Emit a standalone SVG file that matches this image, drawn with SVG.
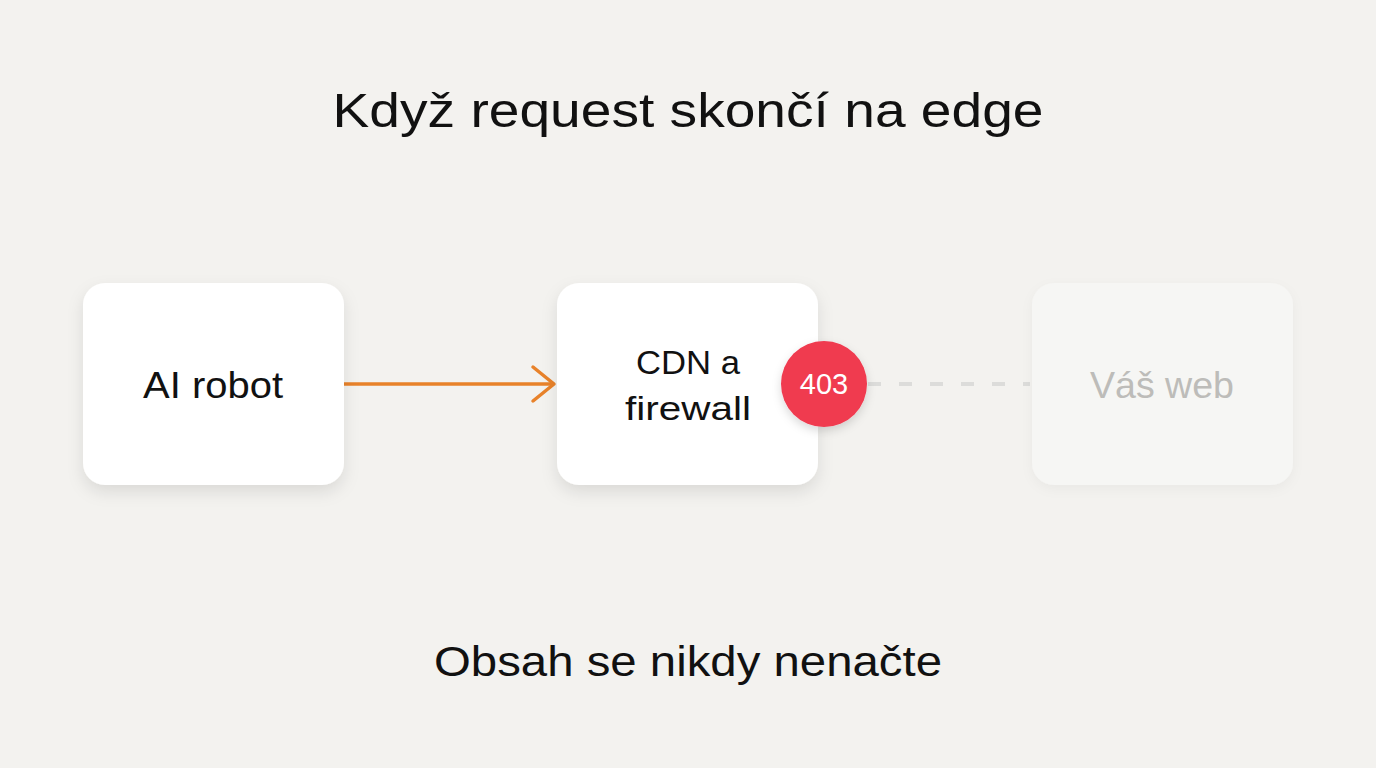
<svg xmlns="http://www.w3.org/2000/svg" width="1376" height="768" viewBox="0 0 1376 768">
<defs>
<style>
.t{font-family:"Liberation Sans","DejaVu Sans",sans-serif;fill:#111;text-anchor:middle}
.box{fill:#ffffff}
</style>
<filter id="sh" x="-20%" y="-20%" width="140%" height="150%">
<feDropShadow dx="0" dy="7" stdDeviation="8" flood-color="#000" flood-opacity="0.10"/>
</filter>
<filter id="sh2" x="-20%" y="-20%" width="140%" height="150%">
<feDropShadow dx="0" dy="4" stdDeviation="6" flood-color="#000" flood-opacity="0.04"/>
</filter>
<filter id="sh3" x="-40%" y="-40%" width="180%" height="180%">
<feDropShadow dx="0" dy="4" stdDeviation="5" flood-color="#000" flood-opacity="0.15"/>
</filter>
</defs>
<rect width="1376" height="768" fill="#f3f2ef"/>
<text class="t" x="688" y="127" font-size="49" textLength="711" lengthAdjust="spacingAndGlyphs">Když request skončí na edge</text>
<g id="connectors">
<line x1="344" y1="384" x2="554" y2="384" stroke="#e8822a" stroke-width="3.5"/>
<polyline points="533,367 554,384 533,401" fill="none" stroke="#e8822a" stroke-width="3.5" stroke-linecap="round" stroke-linejoin="round"/>
<line x1="868" y1="384" x2="1030" y2="384" stroke="#dcdcda" stroke-width="4" stroke-dasharray="13 18"/>
</g>
<g id="ai-robot">
<rect class="box" x="83" y="283" width="261" height="202" rx="22" filter="url(#sh)"/>
<text class="t" x="213" y="398" font-size="37" textLength="140" lengthAdjust="spacingAndGlyphs">AI robot</text>
</g>
<g id="cdn">
<rect class="box" x="557" y="283" width="261" height="202" rx="22" filter="url(#sh)"/>
<text class="t" x="688" y="374" font-size="34" textLength="104" lengthAdjust="spacingAndGlyphs">CDN a</text>
<text class="t" x="688" y="420" font-size="34" textLength="126" lengthAdjust="spacingAndGlyphs">firewall</text>
</g>
<g id="badge-403">
<circle cx="824" cy="384" r="43" fill="#f03a50" filter="url(#sh3)"/>
<text class="t" x="824" y="394" font-size="29" style="fill:#ffffff">403</text>
</g>
<g id="vas-web">
<rect x="1032" y="283" width="261" height="202" rx="22" fill="#f6f6f4" filter="url(#sh2)"/>
<text class="t" x="1162" y="398" font-size="36" textLength="144" lengthAdjust="spacingAndGlyphs" style="fill:#bdbcb9">Váš web</text>
</g>
<text class="t" x="688" y="676" font-size="42" textLength="508" lengthAdjust="spacingAndGlyphs">Obsah se nikdy nenačte</text>
</svg>
